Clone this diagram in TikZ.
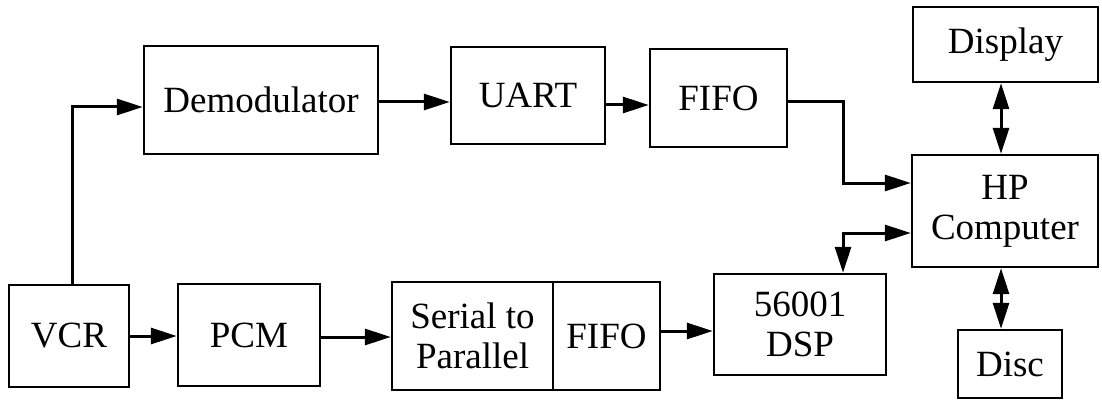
\documentclass[tikz,border=0pt]{standalone}
\usepackage{fontspec}
\setmainfont{Liberation Serif}
\usetikzlibrary{arrows.meta}
\begin{document}
\begin{tikzpicture}[x=1pt,y=-1pt,
  blk/.style={draw,line width=2.4pt,inner sep=0pt,align=center,
    font=\fontsize{37}{40}\selectfont},
  arr/.style={line width=3pt,-{Triangle[length=26pt,width=16pt]}},
  darr/.style={line width=3pt,{Triangle[length=26pt,width=16pt]}-{Triangle[length=26pt,width=16pt]}}]
\useasboundingbox (0,0) rectangle (1102,401);
% boxes
\node[blk,minimum width=120pt,minimum height=102pt] (VCR) at (69,336) {VCR};
\node[blk,minimum width=142pt,minimum height=102pt] (PCM) at (249,335) {PCM};
\node[blk,minimum width=161pt,minimum height=108pt] (SP) at (472.5,336) {Serial to\\Parallel};
\node[blk,minimum width=107pt,minimum height=108pt] (FIFOb) at (606.5,336) {FIFO};
\node[blk,minimum width=172pt,minimum height=101pt] (DSP) at (800,324.5) {56001\\DSP};
\node[blk,minimum width=234pt,minimum height=108pt] (Demod) at (261,100) {Demodulator};
\node[blk,minimum width=154pt,minimum height=97pt] (UART) at (528,95.5) {UART};
\node[blk,minimum width=137pt,minimum height=98pt] (FIFOa) at (718.5,98) {FIFO};
\node[blk,minimum width=185pt,minimum height=75pt] (Display) at (1005.5,44.5) {Display};
\node[blk,minimum width=186pt,minimum height=112pt] (HP) at (1005,211) {HP\\Computer};
\node[blk,minimum width=104pt,minimum height=68pt] (Disc) at (1010,364) {Disc};
% helper coordinates
\coordinate (c1) at (72,107);
\coordinate (c2) at (843,102);
\coordinate (c3) at (843,233);
\coordinate (c4) at (1001,0);
% connectors
\draw[arr] (VCR.north -| c1) |- (c1 -| Demod.west);
\draw[arr] (Demod.east |- 0,102) -- (UART.west |- 0,102);
\draw[arr] (UART.east |- 0,105) -- (FIFOa.west |- 0,105);
\draw[arr] (FIFOa.east |- c2) -- (c2) |- (HP.west |- 0,183);
\draw[darr] (DSP.north -| c3) |- (c3 -| HP.west);
\draw[darr] (Display.south -| c4) -- (HP.north -| c4);
\draw[darr] (HP.south -| c4) -- (Disc.north -| c4);
\draw[arr] (VCR.east |- 0,336) -- (PCM.west |- 0,336);
\draw[arr] (PCM.east |- 0,337) -- (SP.west |- 0,337);
\draw[arr] (FIFOb.east |- 0,331) -- (DSP.west |- 0,331);
\end{tikzpicture}
\end{document}
